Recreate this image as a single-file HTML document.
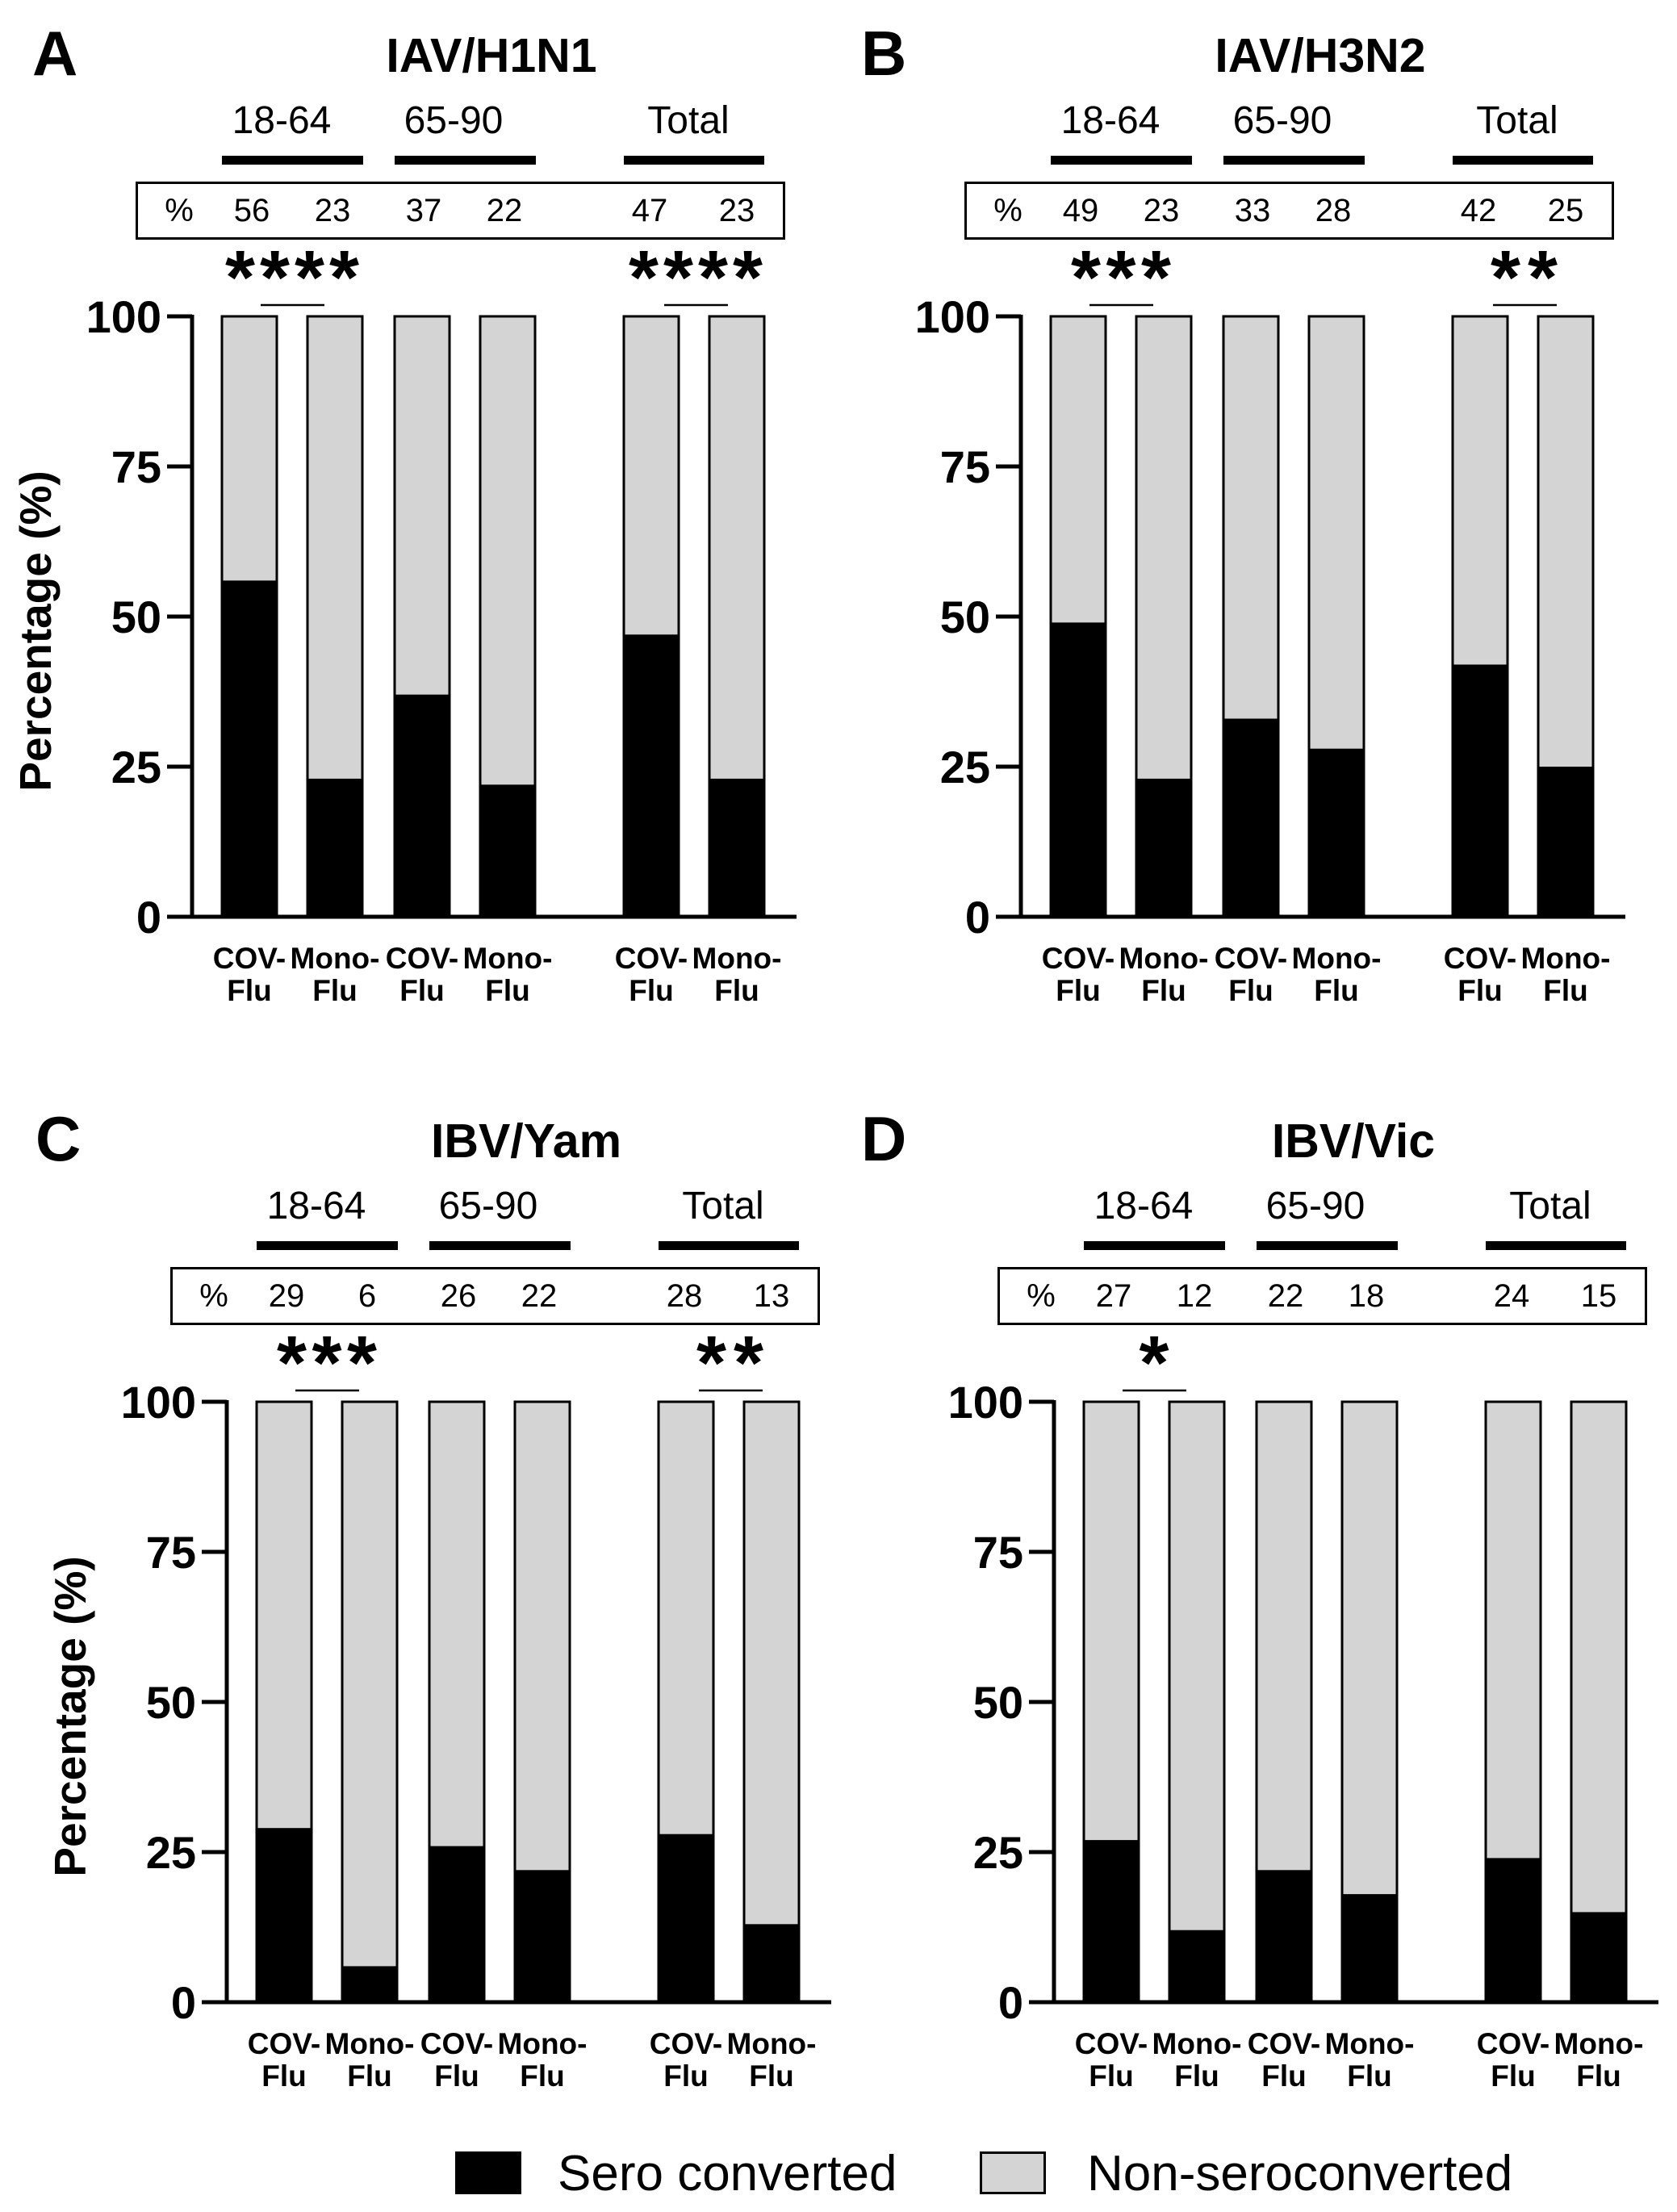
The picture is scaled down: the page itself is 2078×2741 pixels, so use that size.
<!DOCTYPE html>
<html><head><meta charset="utf-8"><style>
html,body{margin:0;padding:0;background:#fff;}
svg{display:block;}
text{font-family:"Liberation Sans",Arial,sans-serif;}
.b{font-weight:bold;}
</style></head><body>
<svg width="2078" height="2741" viewBox="0 0 2078 2741" xmlns="http://www.w3.org/2000/svg">
<rect width="2078" height="2741" fill="#fff"/>

<text x="40" y="93" font-size="78" class="b">A</text>
<text x="1067" y="93" font-size="78" class="b">B</text>
<text x="44" y="1438" font-size="78" class="b">C</text>
<text x="1067" y="1438" font-size="78" class="b">D</text>

<!-- ============ PANEL A ============ -->
<g transform="translate(0,0)">
<text x="609" y="89" font-size="59" class="b" text-anchor="middle">IAV/H1N1</text>
<text x="349" y="165" font-size="48" text-anchor="middle">18-64</text>
<text x="562" y="165" font-size="48" text-anchor="middle">65-90</text>
<text x="853" y="165" font-size="48" text-anchor="middle">Total</text>
<rect x="275" y="193" width="175" height="11" fill="#000"/>
<rect x="489" y="193" width="175" height="11" fill="#000"/>
<rect x="773" y="193" width="174" height="11" fill="#000"/>
<rect x="169.5" y="226.5" width="802" height="69" fill="none" stroke="#000" stroke-width="3"/>
<g font-size="40" text-anchor="middle">
<text x="222" y="274">%</text><text x="312" y="274">56</text><text x="412" y="274">23</text><text x="525" y="274">37</text><text x="625" y="274">22</text><text x="805" y="274">47</text><text x="913" y="274">23</text>
</g>
<text x="279" y="376" font-size="95" class="b" textLength="166" lengthAdjust="spacing">****</text>
<text x="779" y="376" font-size="95" class="b" textLength="166" lengthAdjust="spacing">****</text>
<line x1="323" y1="378" x2="402" y2="378" stroke="#000" stroke-width="2.5"/>
<line x1="823" y1="378" x2="902" y2="378" stroke="#000" stroke-width="2.5"/>
<g stroke="#000" stroke-width="3">
<rect x="275" y="392" width="68" height="744" fill="#d4d4d4"/>
<rect x="381" y="392" width="68" height="744" fill="#d4d4d4"/>
<rect x="489" y="392" width="68" height="744" fill="#d4d4d4"/>
<rect x="595" y="392" width="68" height="744" fill="#d4d4d4"/>
<rect x="773" y="392" width="68" height="744" fill="#d4d4d4"/>
<rect x="879" y="392" width="68" height="744" fill="#d4d4d4"/>
</g>
<g fill="#000">
<rect x="275" y="719.4" width="68" height="416.6"/>
<rect x="381" y="964.9" width="68" height="171.1"/>
<rect x="489" y="860.7" width="68" height="275.3"/>
<rect x="595" y="972.3" width="68" height="163.7"/>
<rect x="773" y="786.3" width="68" height="349.7"/>
<rect x="879" y="964.9" width="68" height="171.1"/>
</g>
<g stroke="#000" stroke-width="5">
<line x1="238" y1="390" x2="238" y2="1138"/>
<line x1="236" y1="1136" x2="987" y2="1136"/>
<line x1="207" y1="392" x2="238" y2="392"/><line x1="207" y1="578" x2="238" y2="578"/><line x1="207" y1="764" x2="238" y2="764"/><line x1="207" y1="950" x2="238" y2="950"/><line x1="207" y1="1136" x2="238" y2="1136"/>
</g>
<g font-size="56" class="b" text-anchor="end">
<text x="200" y="412">100</text><text x="200" y="598">75</text><text x="200" y="784">50</text><text x="200" y="970">25</text><text x="200" y="1156">0</text>
</g>
<text transform="translate(63,782) rotate(-90)" font-size="55" class="b" text-anchor="middle">Percentage (%)</text>
<g font-size="37" class="b" text-anchor="middle">
<text x="309" y="1200">COV-</text><text x="309" y="1240">Flu</text>
<text x="415" y="1200">Mono-</text><text x="415" y="1240">Flu</text>
<text x="523" y="1200">COV-</text><text x="523" y="1240">Flu</text>
<text x="629" y="1200">Mono-</text><text x="629" y="1240">Flu</text>
<text x="807" y="1200">COV-</text><text x="807" y="1240">Flu</text>
<text x="913" y="1200">Mono-</text><text x="913" y="1240">Flu</text>
</g>
</g>

<!-- ============ PANEL B ============ -->
<g transform="translate(1027,0)">
<text x="609" y="89" font-size="59" class="b" text-anchor="middle">IAV/H3N2</text>
<text x="349" y="165" font-size="48" text-anchor="middle">18-64</text>
<text x="562" y="165" font-size="48" text-anchor="middle">65-90</text>
<text x="853" y="165" font-size="48" text-anchor="middle">Total</text>
<rect x="275" y="193" width="175" height="11" fill="#000"/>
<rect x="489" y="193" width="175" height="11" fill="#000"/>
<rect x="773" y="193" width="174" height="11" fill="#000"/>
<rect x="169.5" y="226.5" width="802" height="69" fill="none" stroke="#000" stroke-width="3"/>
<g font-size="40" text-anchor="middle">
<text x="222" y="274">%</text><text x="312" y="274">49</text><text x="412" y="274">23</text><text x="525" y="274">33</text><text x="625" y="274">28</text><text x="805" y="274">42</text><text x="913" y="274">25</text>
</g>
<text x="300" y="376" font-size="95" class="b" textLength="124" lengthAdjust="spacing">***</text>
<text x="820" y="376" font-size="95" class="b" textLength="83" lengthAdjust="spacing">**</text>
<line x1="323" y1="378" x2="402" y2="378" stroke="#000" stroke-width="2.5"/>
<line x1="823" y1="378" x2="902" y2="378" stroke="#000" stroke-width="2.5"/>
<g stroke="#000" stroke-width="3">
<rect x="275" y="392" width="68" height="744" fill="#d4d4d4"/>
<rect x="381" y="392" width="68" height="744" fill="#d4d4d4"/>
<rect x="489" y="392" width="68" height="744" fill="#d4d4d4"/>
<rect x="595" y="392" width="68" height="744" fill="#d4d4d4"/>
<rect x="773" y="392" width="68" height="744" fill="#d4d4d4"/>
<rect x="879" y="392" width="68" height="744" fill="#d4d4d4"/>
</g>
<g fill="#000">
<rect x="275" y="771.4" width="68" height="364.6"/>
<rect x="381" y="964.9" width="68" height="171.1"/>
<rect x="489" y="890.5" width="68" height="245.5"/>
<rect x="595" y="927.7" width="68" height="208.3"/>
<rect x="773" y="823.5" width="68" height="312.5"/>
<rect x="879" y="950" width="68" height="186"/>
</g>
<g stroke="#000" stroke-width="5">
<line x1="238" y1="390" x2="238" y2="1138"/>
<line x1="236" y1="1136" x2="987" y2="1136"/>
<line x1="207" y1="392" x2="238" y2="392"/><line x1="207" y1="578" x2="238" y2="578"/><line x1="207" y1="764" x2="238" y2="764"/><line x1="207" y1="950" x2="238" y2="950"/><line x1="207" y1="1136" x2="238" y2="1136"/>
</g>
<g font-size="56" class="b" text-anchor="end">
<text x="200" y="412">100</text><text x="200" y="598">75</text><text x="200" y="784">50</text><text x="200" y="970">25</text><text x="200" y="1156">0</text>
</g>
<g font-size="37" class="b" text-anchor="middle">
<text x="309" y="1200">COV-</text><text x="309" y="1240">Flu</text>
<text x="415" y="1200">Mono-</text><text x="415" y="1240">Flu</text>
<text x="523" y="1200">COV-</text><text x="523" y="1240">Flu</text>
<text x="629" y="1200">Mono-</text><text x="629" y="1240">Flu</text>
<text x="807" y="1200">COV-</text><text x="807" y="1240">Flu</text>
<text x="913" y="1200">Mono-</text><text x="913" y="1240">Flu</text>
</g>
</g>

<!-- ============ PANEL C ============ -->
<g transform="translate(43,1345)">
<text x="609" y="89" font-size="59" class="b" text-anchor="middle">IBV/Yam</text>
<text x="349" y="165" font-size="48" text-anchor="middle">18-64</text>
<text x="562" y="165" font-size="48" text-anchor="middle">65-90</text>
<text x="853" y="165" font-size="48" text-anchor="middle">Total</text>
<rect x="275" y="193" width="175" height="11" fill="#000"/>
<rect x="489" y="193" width="175" height="11" fill="#000"/>
<rect x="773" y="193" width="174" height="11" fill="#000"/>
<rect x="169.5" y="226.5" width="802" height="69" fill="none" stroke="#000" stroke-width="3"/>
<g font-size="40" text-anchor="middle">
<text x="222" y="274">%</text><text x="312" y="274">29</text><text x="412" y="274">6</text><text x="525" y="274">26</text><text x="625" y="274">22</text><text x="805" y="274">28</text><text x="913" y="274">13</text>
</g>
<text x="300" y="376" font-size="95" class="b" textLength="124" lengthAdjust="spacing">***</text>
<text x="820" y="376" font-size="95" class="b" textLength="83" lengthAdjust="spacing">**</text>
<line x1="323" y1="378" x2="402" y2="378" stroke="#000" stroke-width="2.5"/>
<line x1="823" y1="378" x2="902" y2="378" stroke="#000" stroke-width="2.5"/>
<g stroke="#000" stroke-width="3">
<rect x="275" y="392" width="68" height="744" fill="#d4d4d4"/>
<rect x="381" y="392" width="68" height="744" fill="#d4d4d4"/>
<rect x="489" y="392" width="68" height="744" fill="#d4d4d4"/>
<rect x="595" y="392" width="68" height="744" fill="#d4d4d4"/>
<rect x="773" y="392" width="68" height="744" fill="#d4d4d4"/>
<rect x="879" y="392" width="68" height="744" fill="#d4d4d4"/>
</g>
<g fill="#000">
<rect x="275" y="920.2" width="68" height="215.8"/>
<rect x="381" y="1091.4" width="68" height="44.6"/>
<rect x="489" y="942.6" width="68" height="193.4"/>
<rect x="595" y="972.3" width="68" height="163.7"/>
<rect x="773" y="927.7" width="68" height="208.3"/>
<rect x="879" y="1039.3" width="68" height="96.7"/>
</g>
<g stroke="#000" stroke-width="5">
<line x1="238" y1="390" x2="238" y2="1138"/>
<line x1="236" y1="1136" x2="987" y2="1136"/>
<line x1="207" y1="392" x2="238" y2="392"/><line x1="207" y1="578" x2="238" y2="578"/><line x1="207" y1="764" x2="238" y2="764"/><line x1="207" y1="950" x2="238" y2="950"/><line x1="207" y1="1136" x2="238" y2="1136"/>
</g>
<g font-size="56" class="b" text-anchor="end">
<text x="200" y="412">100</text><text x="200" y="598">75</text><text x="200" y="784">50</text><text x="200" y="970">25</text><text x="200" y="1156">0</text>
</g>
<text transform="translate(63,782) rotate(-90)" font-size="55" class="b" text-anchor="middle">Percentage (%)</text>
<g font-size="37" class="b" text-anchor="middle">
<text x="309" y="1200">COV-</text><text x="309" y="1240">Flu</text>
<text x="415" y="1200">Mono-</text><text x="415" y="1240">Flu</text>
<text x="523" y="1200">COV-</text><text x="523" y="1240">Flu</text>
<text x="629" y="1200">Mono-</text><text x="629" y="1240">Flu</text>
<text x="807" y="1200">COV-</text><text x="807" y="1240">Flu</text>
<text x="913" y="1200">Mono-</text><text x="913" y="1240">Flu</text>
</g>
</g>

<!-- ============ PANEL D ============ -->
<g transform="translate(1068,1345)">
<text x="609" y="89" font-size="59" class="b" text-anchor="middle">IBV/Vic</text>
<text x="349" y="165" font-size="48" text-anchor="middle">18-64</text>
<text x="562" y="165" font-size="48" text-anchor="middle">65-90</text>
<text x="853" y="165" font-size="48" text-anchor="middle">Total</text>
<rect x="275" y="193" width="175" height="11" fill="#000"/>
<rect x="489" y="193" width="175" height="11" fill="#000"/>
<rect x="773" y="193" width="174" height="11" fill="#000"/>
<rect x="169.5" y="226.5" width="802" height="69" fill="none" stroke="#000" stroke-width="3"/>
<g font-size="40" text-anchor="middle">
<text x="222" y="274">%</text><text x="312" y="274">27</text><text x="412" y="274">12</text><text x="525" y="274">22</text><text x="625" y="274">18</text><text x="805" y="274">24</text><text x="913" y="274">15</text>
</g>
<text x="362" y="376" font-size="95" class="b" text-anchor="middle">*</text>
<line x1="323" y1="378" x2="402" y2="378" stroke="#000" stroke-width="2.5"/>
<g stroke="#000" stroke-width="3">
<rect x="275" y="392" width="68" height="744" fill="#d4d4d4"/>
<rect x="381" y="392" width="68" height="744" fill="#d4d4d4"/>
<rect x="489" y="392" width="68" height="744" fill="#d4d4d4"/>
<rect x="595" y="392" width="68" height="744" fill="#d4d4d4"/>
<rect x="773" y="392" width="68" height="744" fill="#d4d4d4"/>
<rect x="879" y="392" width="68" height="744" fill="#d4d4d4"/>
</g>
<g fill="#000">
<rect x="275" y="935.1" width="68" height="200.9"/>
<rect x="381" y="1046.7" width="68" height="89.3"/>
<rect x="489" y="972.3" width="68" height="163.7"/>
<rect x="595" y="1002.1" width="68" height="133.9"/>
<rect x="773" y="957.4" width="68" height="178.6"/>
<rect x="879" y="1024.4" width="68" height="111.6"/>
</g>
<g stroke="#000" stroke-width="5">
<line x1="238" y1="390" x2="238" y2="1138"/>
<line x1="236" y1="1136" x2="987" y2="1136"/>
<line x1="207" y1="392" x2="238" y2="392"/><line x1="207" y1="578" x2="238" y2="578"/><line x1="207" y1="764" x2="238" y2="764"/><line x1="207" y1="950" x2="238" y2="950"/><line x1="207" y1="1136" x2="238" y2="1136"/>
</g>
<g font-size="56" class="b" text-anchor="end">
<text x="200" y="412">100</text><text x="200" y="598">75</text><text x="200" y="784">50</text><text x="200" y="970">25</text><text x="200" y="1156">0</text>
</g>
<g font-size="37" class="b" text-anchor="middle">
<text x="309" y="1200">COV-</text><text x="309" y="1240">Flu</text>
<text x="415" y="1200">Mono-</text><text x="415" y="1240">Flu</text>
<text x="523" y="1200">COV-</text><text x="523" y="1240">Flu</text>
<text x="629" y="1200">Mono-</text><text x="629" y="1240">Flu</text>
<text x="807" y="1200">COV-</text><text x="807" y="1240">Flu</text>
<text x="913" y="1200">Mono-</text><text x="913" y="1240">Flu</text>
</g>
</g>

<rect x="564" y="2666" width="82" height="53" fill="#000"/>
<text x="691" y="2714" font-size="62">Sero converted</text>
<rect x="1215.5" y="2667.5" width="79" height="50" fill="#d4d4d4" stroke="#000" stroke-width="3"/>
<text x="1347" y="2714" font-size="62">Non-seroconverted</text>
</svg>
</body></html>
